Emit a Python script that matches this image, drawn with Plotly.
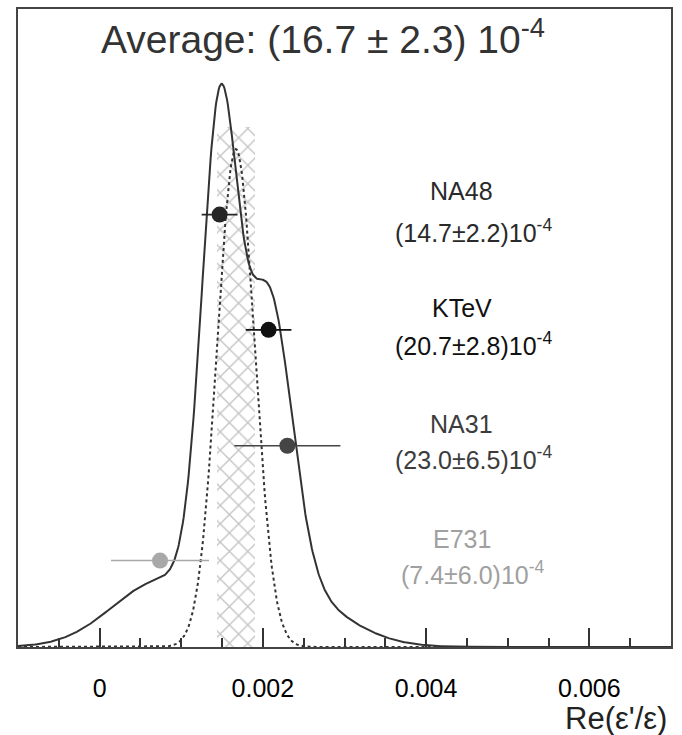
import numpy as np
import plotly.graph_objects as go

# ---- data (values in units of 1e-4) ----
experiments = ["NA48", "KTeV", "NA31", "E731"]
values = [14.7, 20.7, 23.0, 7.4]
errors = [2.2, 2.8, 6.5, 6.0]
point_levels = [0.1876, 0.1376, 0.0873, 0.0375]   # vertical placement of the points
exp_colors = ["#262626", "#111111", "#454545", "#a8a8a8"]
text_colors = ["#2a2a2a", "#111111", "#3c3c3c", "#a0a0a0"]
label_levels = [[190, 230], [307, 343], [423, 457], [539, 573]]

avg_value = 16.7
avg_error = 2.3
avg_peak = 0.216
band_top = 0.2258

x_ticks = [0, 0.002, 0.004, 0.006]
x_ticklabels = ["0", "0.002", "0.004", "0.006"]
x_range = [-0.001, 0.007]
y_range = [0, 0.2768]

# ---- curves built from the measurements ----
xs = np.linspace(-10, 70, 801)
ideogram = np.zeros_like(xs)
for v, e in zip(values, errors):
    ideogram += (1.0 / e**2) * np.exp(-0.5 * ((xs - v) / e) ** 2)
avg_curve = avg_peak * np.exp(-0.5 * ((xs - avg_value) / avg_error) ** 2)

fig = go.Figure()

# hatched band: average +- error
fig.add_trace(go.Bar(
    x=[avg_value * 1e-4], y=[band_top], width=[2 * avg_error * 1e-4],
    marker=dict(color="white", line=dict(width=0),
                pattern=dict(shape="x", fgcolor="#8a8a8a", bgcolor="white",
                             size=13, solidity=0.2)),
    showlegend=False, hoverinfo="skip"))

fig.add_trace(go.Scatter(x=xs * 1e-4, y=avg_curve, mode="lines",
                         line=dict(color="#333333", width=2, dash="3px,3px"),
                         showlegend=False))
fig.add_trace(go.Scatter(x=xs * 1e-4, y=ideogram, mode="lines",
                         line=dict(color="#333333", width=2),
                         showlegend=False))

for name, v, e, yl, c in zip(experiments, values, errors, point_levels, exp_colors):
    fig.add_trace(go.Scatter(
        x=[v * 1e-4], y=[yl], mode="markers",
        marker=dict(color=c, size=16, line=dict(width=0)),
        error_x=dict(type="data", array=[e * 1e-4], color=c, thickness=1.6, width=0),
        showlegend=False, name=name))

FONT = "Liberation Sans, Arial, sans-serif"

def px_x(x):
    return (x - 18) / (671 - 18)

def px_y(y):
    return (647 - y) / (647 - 7)

annotations = []
annotations.append(dict(text="Average: (16.7 \u00b1 2.3) 10<sup>-4</sup>",
                        x=px_x(323), y=px_y(35), xref="paper", yref="paper",
                        xanchor="center", yanchor="middle", showarrow=False,
                        font=dict(family=FONT, size=39, color="#333333")))
for name, v, e, (ly1, ly2), c in zip(experiments, values, errors, label_levels, text_colors):
    annotations.append(dict(text=name, x=px_x(462), y=px_y(ly1),
                            xref="paper", yref="paper", xanchor="center",
                            yanchor="middle", showarrow=False,
                            font=dict(family=FONT, size=25, color=c)))
    annotations.append(dict(text="(%.1f\u00b1%.1f)10<sup>-4</sup>" % (v, e),
                            x=px_x(473), y=px_y(ly2),
                            xref="paper", yref="paper", xanchor="center",
                            yanchor="middle", showarrow=False,
                            font=dict(family=FONT, size=25, color=c)))
annotations.append(dict(text="Re(\u03b5'/\u03b5)", x=px_x(669), y=px_y(719),
                        xref="paper", yref="paper", xanchor="right",
                        yanchor="middle", showarrow=False,
                        font=dict(family=FONT, size=31, color="#222222")))

fig.update_layout(
    width=682, height=735,
    margin=dict(l=18, r=11, t=7, b=88),
    paper_bgcolor="white", plot_bgcolor="white",
    bargap=0,
    annotations=annotations,
    font=dict(family=FONT, color="#111111"),
    xaxis=dict(range=x_range, tickvals=x_ticks, ticktext=x_ticklabels,
               ticks="inside", ticklen=19, tickwidth=1.5, tickcolor="#333333",
               minor=dict(dtick=0.0005, tick0=0, ticks="inside", ticklen=9,
                          tickwidth=1.5, tickcolor="#333333"),
               showline=True, linecolor="#444444", linewidth=2, mirror=True,
               showgrid=False, zeroline=False,
               tickfont=dict(family=FONT, size=25, color="#000000"),
               ticklabelstandoff=18),
    yaxis=dict(range=y_range, showline=True, linecolor="#444444", linewidth=2,
               mirror=True, showgrid=False, zeroline=False, showticklabels=False,
               ticks=""),
)

fig.write_html("out.html")
